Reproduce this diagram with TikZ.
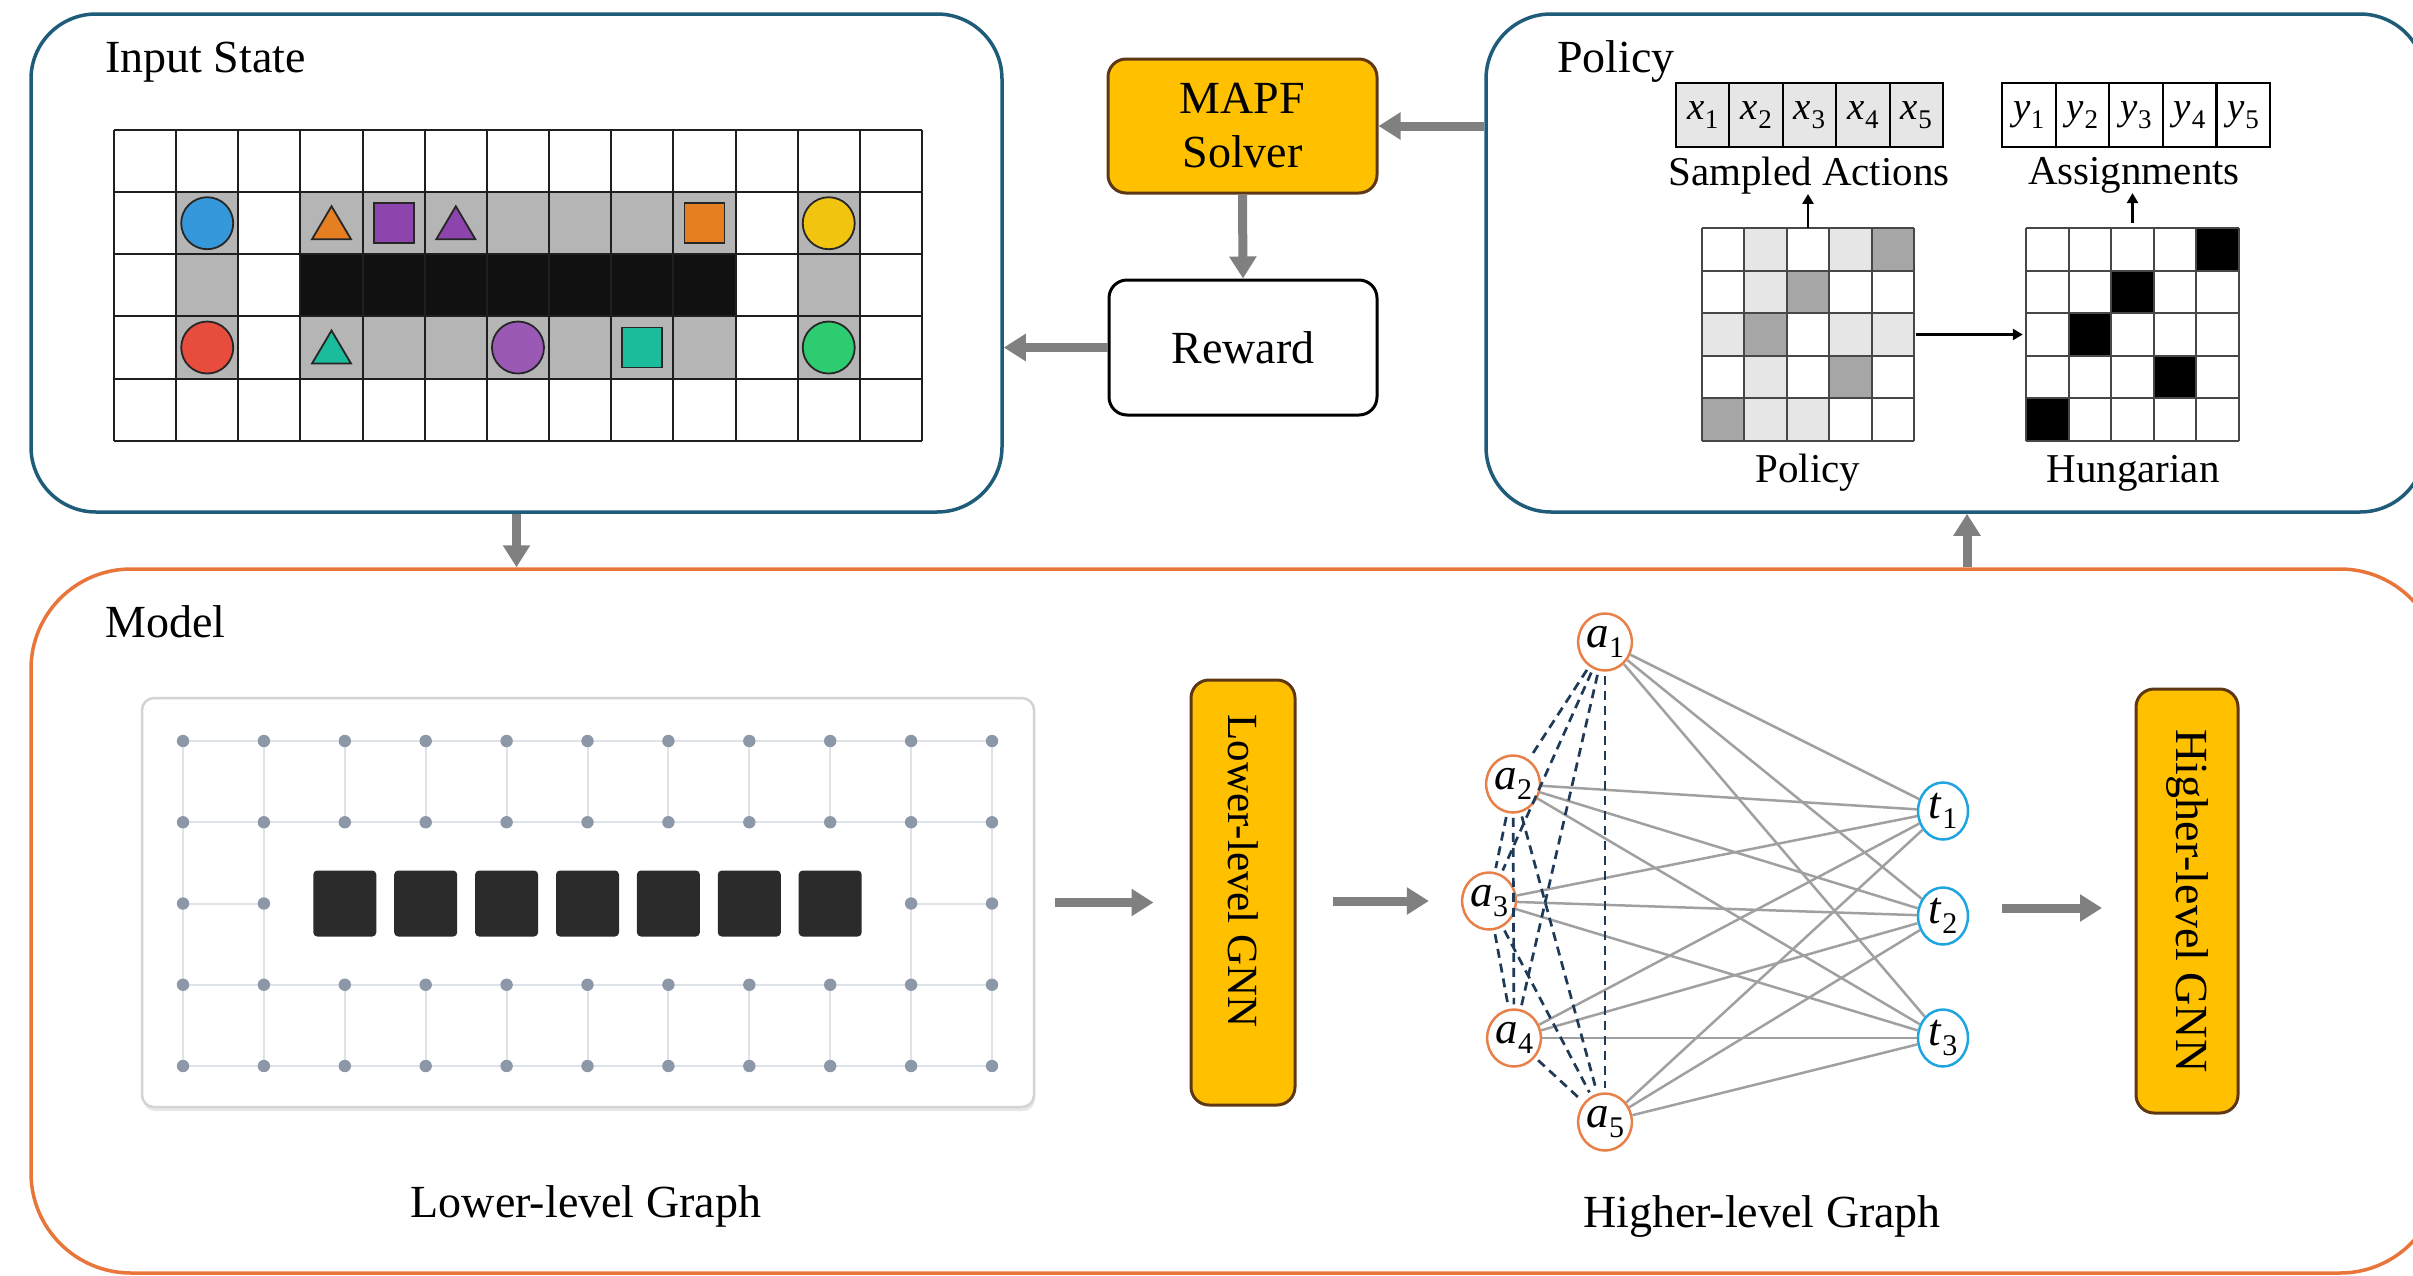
\documentclass[tikz,border=0pt]{standalone}
\usepackage{fontspec}
\setmainfont{Liberation Serif}
\usetikzlibrary{arrows.meta,shapes.geometric,calc}

\definecolor{frameblue}{RGB}{31,92,122}
\definecolor{frameorange}{RGB}{232,118,58}
\definecolor{gold}{RGB}{255,192,0}
\definecolor{brownedge}{RGB}{94,56,20}
\definecolor{arrowgray}{RGB}{128,128,128}
\definecolor{cellgray}{RGB}{181,181,181}
\definecolor{cellblack}{RGB}{17,17,17}
\definecolor{agblue}{HTML}{3498DB}
\definecolor{agred}{HTML}{E74C3C}
\definecolor{agyellow}{HTML}{F1C40F}
\definecolor{aggreen}{HTML}{2ECC71}
\definecolor{agpurple}{HTML}{8E44AD}
\definecolor{agpurplelt}{HTML}{9B59B6}
\definecolor{agorange}{HTML}{E67E22}
\definecolor{agteal}{HTML}{1ABC9C}
\definecolor{plight}{RGB}{230,230,230}
\definecolor{pdark}{RGB}{166,166,166}
\definecolor{dotgray}{RGB}{140,152,168}
\definecolor{edgelt}{RGB}{222,227,234}
\definecolor{boxlt}{RGB}{212,212,212}
\definecolor{obst}{RGB}{43,43,43}
\definecolor{bipgray}{RGB}{160,160,160}
\definecolor{dashnavy}{RGB}{30,58,86}
\definecolor{nodeorange}{RGB}{232,128,74}
\definecolor{nodeblue}{RGB}{30,165,224}

% label: italic letter with upright subscript (optional subscript size)
\newcommand{\agsub}[3][26pt]{\textit{#2}\kern0.5pt\raisebox{-0.22em}{\fontsize{#1}{#1}\selectfont #3}}
% centre of cell (c,r) of the map grid
\newcommand{\ccx}[1]{\gx+(#1+0.5)*\gc}
\newcommand{\ccy}[1]{\gy+(#1+0.5)*\gc}

\tikzset{
  boxframe/.style={draw, line width=3.5pt, rounded corners=65pt, inner sep=0pt},
  bigarrow/.style={draw=arrowgray, line width=9pt, -{Triangle[width=26pt,length=22pt]}},
  smallarrow/.style={draw=black, line width=2.5pt, -{Triangle[width=11pt,length=10pt]}},
  bigfont/.style={font=\fontsize{46pt}{54pt}\selectfont},
  goldbox/.style={draw=brownedge, fill=gold, line width=3pt, rounded corners=18pt,
    inner sep=0pt, align=center, bigfont},
  whitebox/.style={draw=black, fill=white, line width=3pt, rounded corners=18pt,
    inner sep=0pt, align=center, bigfont},
  titletext/.style={bigfont, anchor=base west, inner sep=0pt},
  captext/.style={bigfont, anchor=base, inner sep=0pt},
  subcaptext/.style={font=\fontsize{41pt}{44pt}\selectfont, anchor=base, inner sep=0pt},
  vcell/.style={draw=black, line width=2pt, minimum width=53.4pt, minimum height=64pt,
    inner sep=0pt, font=\fontsize{39pt}{40pt}\selectfont},
  gridline/.style={draw=black!88, line width=2pt},
  matline/.style={draw=black!72, line width=2pt},
  agentline/.style={draw=black!85, line width=1.8pt},
  ledge/.style={draw=edgelt, line width=2pt},
  agentnode/.style={ellipse, draw=nodeorange, line width=2.5pt, fill=white,
    minimum width=50pt, minimum height=57pt, inner sep=0pt,
    font=\fontsize{45pt}{46pt}\selectfont},
  tasknode/.style={agentnode, draw=nodeblue},
  bip/.style={draw=bipgray, line width=2.5pt},
  conf/.style={draw=dashnavy, line width=2.7pt, dash pattern=on 9pt off 6pt},
}

\begin{document}
\begin{tikzpicture}[x=1pt, y=-1pt]
\useasboundingbox (0,0) rectangle (2413,1275);
\clip (0,0) rectangle (2413,1275);
\fill[white] (0,0) rectangle (2413,1275);

% ---------- outer frames ----------
\node[boxframe, draw=frameblue, minimum width=971pt, minimum height=498pt] (input) at (516.5,263) {};
\node[boxframe, draw=frameblue, minimum width=939pt, minimum height=498pt] (policy) at (1955.5,263) {};
\node[boxframe, draw=frameorange, rounded corners=100pt, minimum width=2409pt, minimum height=704pt] (model) at (1235.5,921) {};

\node[titletext] (tin) at (105,72) {Input State};
\node[titletext] (tpol) at (1557,72) {Policy};
\node[titletext] (tmod) at (105,637) {Model};

% ---------- map of the input state ----------
\def\gx{114}\def\gy{130}\def\gc{62.15}
\foreach \c/\r in {1/1,3/1,4/1,5/1,6/1,7/1,8/1,9/1,11/1,1/2,11/2,1/3,3/3,4/3,5/3,6/3,7/3,8/3,9/3,11/3}
  \fill[cellgray] ({\gx+\c*\gc},{\gy+\r*\gc}) rectangle ++(\gc,\gc);
\foreach \c in {3,...,9}
  \fill[cellblack] ({\gx+\c*\gc},{\gy+2*\gc}) rectangle ++(\gc,\gc);
\foreach \i in {0,...,13}
  \draw[gridline] ({\gx+\i*\gc},\gy) -- ({\gx+\i*\gc},{\gy+5*\gc});
\foreach \j in {0,...,5}
  \draw[gridline] (\gx,{\gy+\j*\gc}) -- ({\gx+13*\gc},{\gy+\j*\gc});

% agents (discs)
\draw[agentline, fill=agblue]     ({\ccx{1}},{\ccy{1}}) circle[radius=26];
\draw[agentline, fill=agyellow]   ({\ccx{11}},{\ccy{1}}) circle[radius=26];
\draw[agentline, fill=agred]      ({\ccx{1}},{\ccy{3}}) circle[radius=26];
\draw[agentline, fill=aggreen]    ({\ccx{11}},{\ccy{3}}) circle[radius=26];
\draw[agentline, fill=agpurplelt] ({\ccx{6}},{\ccy{3}}) circle[radius=26];
% squares
\draw[agentline, fill=agpurple] ({\ccx{4}-20},{\ccy{1}-20}) rectangle ++(40,40);
\draw[agentline, fill=agorange] ({\ccx{9}-20},{\ccy{1}-20}) rectangle ++(40,40);
\draw[agentline, fill=agteal]   ({\ccx{8}-20},{\ccy{3}-20}) rectangle ++(40,40);
% triangles
\draw[agentline, fill=agorange] ({\ccx{3}},{\ccy{1}-17}) -- ++(19.5,33) -- ++(-39,0) -- cycle;
\draw[agentline, fill=agpurple] ({\ccx{5}},{\ccy{1}-17}) -- ++(19.5,33) -- ++(-39,0) -- cycle;
\draw[agentline, fill=agteal]   ({\ccx{3}},{\ccy{3}-17}) -- ++(19.5,33) -- ++(-39,0) -- cycle;

% ---------- solver and reward ----------
\node[goldbox, minimum width=269pt, minimum height=134pt] (mapf) at (1242.5,126) {MAPF\\Solver};
\node[whitebox, minimum width=268pt, minimum height=135pt] (reward) at (1243,347.5) {Reward};

% ---------- policy panel ----------
\foreach \i in {1,...,5} {
  \node[vcell, fill=plight] (x\i) at ({1676+(\i-0.5)*53.4},115) {\agsub[27pt]{x}{\i}};
  \node[vcell, fill=white]  (y\i) at ({2002+(\i-0.5)*53.6},115) {\agsub[27pt]{y}{\i}};
}
\node[subcaptext] (sampled) at (1809,185) {Sampled Actions};
\node[subcaptext] (assign) at (2134,184) {Assignments};

\node[minimum width=212pt, minimum height=213pt, inner sep=0pt] (pmat) at (1808,334.5) {};
\node[minimum width=213pt, minimum height=213pt, inner sep=0pt] (hmat) at (2132.5,334.5) {};
\foreach \c/\r in {1/0,3/0,1/1,0/2,3/2,4/2,1/3,1/4,2/4}
  \fill[plight] ({1702+\c*42.4},{228+\r*42.6}) rectangle ++(42.4,42.6);
\foreach \c/\r in {4/0,2/1,1/2,3/3,0/4}
  \fill[pdark] ({1702+\c*42.4},{228+\r*42.6}) rectangle ++(42.4,42.6);
\foreach \c/\r in {4/0,2/1,1/2,3/3,0/4}
  \fill[black] ({2026+\c*42.6},{228+\r*42.6}) rectangle ++(42.6,42.6);
\foreach \k in {0,...,5} {
  \draw[matline] ({1702+\k*42.4},228) -- ({1702+\k*42.4},441);
  \draw[matline] (1702,{228+\k*42.6}) -- (1914,{228+\k*42.6});
  \draw[matline] ({2026+\k*42.6},228) -- ({2026+\k*42.6},441);
  \draw[matline] (2026,{228+\k*42.6}) -- (2239,{228+\k*42.6});
}
\node[subcaptext] (polcap) at (1808,482) {Policy};
\node[subcaptext] (hungcap) at (2133,482) {Hungarian};

\draw[smallarrow] (pmat.north) -- (pmat.north |- sampled.south);
\draw[smallarrow, shorten <=5pt] (hmat.north) -- (hmat.north |- assign.south);
\draw[smallarrow, shorten <=2pt, shorten >=3pt] (pmat.east) -- (hmat.west);

% ---------- lower-level graph ----------
\fill[black!9, rounded corners=12pt] (143,702) rectangle (1035,1111);
\node[draw=boxlt, fill=white, line width=2.5pt, rounded corners=12pt, minimum width=892pt,
  minimum height=409pt, inner sep=0pt] (lgraph) at (588,902.5) {};
\def\lx{183}\def\ldx{80.9}\def\ly{741}\def\ldy{81.25}
\foreach \j in {0,1,3,4}
  \draw[ledge] (\lx,{\ly+\j*\ldy}) -- ({\lx+10*\ldx},{\ly+\j*\ldy});
\draw[ledge] (\lx,{\ly+2*\ldy}) -- ({\lx+\ldx},{\ly+2*\ldy});
\draw[ledge] ({\lx+9*\ldx},{\ly+2*\ldy}) -- ({\lx+10*\ldx},{\ly+2*\ldy});
\foreach \i in {0,...,10} {
  \draw[ledge] ({\lx+\i*\ldx},\ly) -- ({\lx+\i*\ldx},{\ly+\ldy});
  \draw[ledge] ({\lx+\i*\ldx},{\ly+3*\ldy}) -- ({\lx+\i*\ldx},{\ly+4*\ldy});
}
\foreach \i in {0,1,9,10}
  \draw[ledge] ({\lx+\i*\ldx},{\ly+\ldy}) -- ({\lx+\i*\ldx},{\ly+3*\ldy});
\foreach \j in {0,1,3,4}
  \foreach \i in {0,...,10}
    \fill[dotgray] ({\lx+\i*\ldx},{\ly+\j*\ldy}) circle[radius=6.2];
\foreach \i in {0,1,9,10}
  \fill[dotgray] ({\lx+\i*\ldx},{\ly+2*\ldy}) circle[radius=6.2];
\foreach \i in {2,...,8}
  \fill[obst, rounded corners=4pt] ({\lx+\i*\ldx-31.5},{\ly+2*\ldy-33}) rectangle ++(63,66);
\node[captext] (clg) at (586,1217) {Lower-level Graph};

% ---------- GNN blocks ----------
\node[goldbox, minimum width=104pt, minimum height=425pt] (lgnn) at (1243,892.5) {};
\node[font=\fontsize{43pt}{46pt}\selectfont, rotate=-90, inner sep=0pt] (lgnntext) at (1243,871) {Lower-level GNN};
\node[goldbox, minimum width=102pt, minimum height=424pt] (hgnn) at (2187,901) {};
\node[bigfont, rotate=-90, inner sep=0pt] (hgnntext) at (2187,901) {Higher-level GNN};

% ---------- higher-level graph ----------
\node[agentnode] (a1) at (1605,642)  {\agsub[30pt]{a}{1}};
\node[agentnode] (a2) at (1513,784)  {\agsub[30pt]{a}{2}};
\node[agentnode] (a3) at (1489,901)  {\agsub[30pt]{a}{3}};
\node[agentnode] (a4) at (1514,1038) {\agsub[30pt]{a}{4}};
\node[agentnode] (a5) at (1605,1122) {\agsub[30pt]{a}{5}};
\node[tasknode] (t1) at (1943,811)  {\agsub[30pt]{t}{1}};
\node[tasknode] (t2) at (1943,916)  {\agsub[30pt]{t}{2}};
\node[tasknode] (t3) at (1943,1038) {\agsub[30pt]{t}{3}};
\foreach \a in {1,...,5}
  \foreach \t in {1,2,3}
    \draw[bip] (a\a) -- (t\t);
\foreach \a/\b in {1/2,1/3,1/4,1/5,2/3,2/4,2/5,3/4,3/5,4/5}
  \draw[conf, shorten <=4pt, shorten >=4pt] (a\a) -- (a\b);
\node[captext] (chg) at (1762,1227) {Higher-level Graph};

% ---------- flow arrows ----------
\draw[bigarrow] (policy.west |- mapf.east) -- (mapf.east);
\draw[bigarrow] (mapf.south) -- (reward.north);
\draw[bigarrow] (reward.west) -- (input.east |- reward.west);
\draw[bigarrow] (input.south) -- (input.south |- model.north);
\coordinate (mp) at (1967,567);
\draw[bigarrow] (mp) -- (mp |- policy.south);
\draw[bigarrow, shorten <=20pt, shorten >=36pt] (lgraph.east) -- (lgnn.west |- lgraph.east);
\draw[bigarrow, shorten <=36pt, shorten >=32pt] (lgnn.east |- a3) -- (a3.west);
\coordinate (hin) at (2102,908);
\draw[bigarrow, shorten <=33pt] (t2.east |- hin) -- (hin);
\end{tikzpicture}
\end{document}
